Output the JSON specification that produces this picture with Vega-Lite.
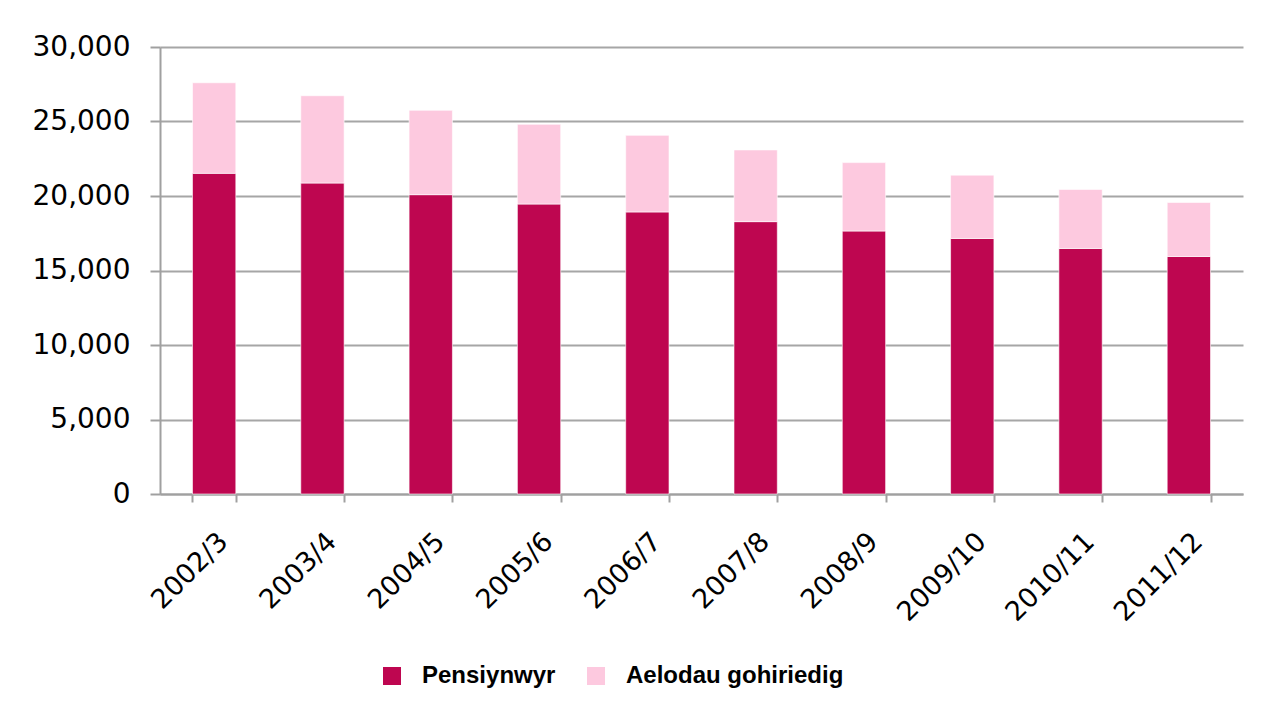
{
  "$schema": "https://vega.github.io/schema/vega-lite/v6.json",
  "width": 1083,
  "height": 447,
  "autosize": {"type": "none"},
  "padding": {"left": 160, "top": 47, "right": 35, "bottom": 224},
  "background": "white",
  "data": {
    "values": [
      {"year": "2002/3", "series": "Pensiynwyr", "order": 1, "value": 21520},
      {"year": "2002/3", "series": "Aelodau gohiriedig", "order": 2, "value": 6080},
      {"year": "2003/4", "series": "Pensiynwyr", "order": 1, "value": 20870},
      {"year": "2003/4", "series": "Aelodau gohiriedig", "order": 2, "value": 5860},
      {"year": "2004/5", "series": "Pensiynwyr", "order": 1, "value": 20090},
      {"year": "2004/5", "series": "Aelodau gohiriedig", "order": 2, "value": 5660},
      {"year": "2005/6", "series": "Pensiynwyr", "order": 1, "value": 19460},
      {"year": "2005/6", "series": "Aelodau gohiriedig", "order": 2, "value": 5350},
      {"year": "2006/7", "series": "Pensiynwyr", "order": 1, "value": 18930},
      {"year": "2006/7", "series": "Aelodau gohiriedig", "order": 2, "value": 5140},
      {"year": "2007/8", "series": "Pensiynwyr", "order": 1, "value": 18280},
      {"year": "2007/8", "series": "Aelodau gohiriedig", "order": 2, "value": 4810},
      {"year": "2008/9", "series": "Pensiynwyr", "order": 1, "value": 17650},
      {"year": "2008/9", "series": "Aelodau gohiriedig", "order": 2, "value": 4590},
      {"year": "2009/10", "series": "Pensiynwyr", "order": 1, "value": 17150},
      {"year": "2009/10", "series": "Aelodau gohiriedig", "order": 2, "value": 4250},
      {"year": "2010/11", "series": "Pensiynwyr", "order": 1, "value": 16480},
      {"year": "2010/11", "series": "Aelodau gohiriedig", "order": 2, "value": 3960},
      {"year": "2011/12", "series": "Pensiynwyr", "order": 1, "value": 15940},
      {"year": "2011/12", "series": "Aelodau gohiriedig", "order": 2, "value": 3630}
    ]
  },
  "mark": {"type": "bar", "stroke": "#ffffff", "strokeOpacity": 0.6, "strokeWidth": 1},
  "encoding": {
    "x": {
      "field": "year",
      "type": "nominal",
      "sort": null,
      "scale": {"paddingInner": 0.6, "paddingOuter": 0.3},
      "axis": {
        "title": null,
        "labelAngle": -45,
        "labelFont": "DejaVu Sans",
        "labelFontSize": 27,
        "labelColor": "#000000",
        "labelPadding": 26,
        "tickBand": "extent",
        "tickSize": 8,
        "tickColor": "#a0a0a0",
        "tickWidth": 2,
        "domainColor": "#a0a0a0",
        "domainWidth": 2,
        "grid": false
      }
    },
    "y": {
      "field": "value",
      "type": "quantitative",
      "stack": "zero",
      "scale": {"domain": [0, 30000], "nice": false},
      "axis": {
        "title": null,
        "values": [0, 5000, 10000, 15000, 20000, 25000, 30000],
        "format": ",d",
        "labelFont": "DejaVu Sans",
        "labelFontSize": 28,
        "labelColor": "#000000",
        "labelPadding": 20,
        "tickSize": 10,
        "tickColor": "#a0a0a0",
        "tickWidth": 2,
        "domainColor": "#a0a0a0",
        "domainWidth": 2,
        "grid": true,
        "gridColor": "#a6a6a6",
        "gridWidth": 2
      }
    },
    "color": {
      "field": "series",
      "type": "nominal",
      "scale": {
        "domain": ["Pensiynwyr", "Aelodau gohiriedig"],
        "range": ["#be0650", "#fdc9df"]
      },
      "legend": {
        "title": null,
        "orient": "none",
        "direction": "horizontal",
        "legendX": 220,
        "legendY": 617,
        "symbolType": "square",
        "symbolSize": 324,
        "symbolStrokeWidth": 0,
        "labelFont": "Liberation Sans",
        "labelFontWeight": "bold",
        "labelFontSize": 24,
        "labelColor": "#000000",
        "labelOffset": 18,
        "columnPadding": 28,
        "labelLimit": 400
      }
    },
    "order": {"field": "order", "type": "quantitative"}
  },
  "config": {
    "view": {"stroke": null}
  }
}
